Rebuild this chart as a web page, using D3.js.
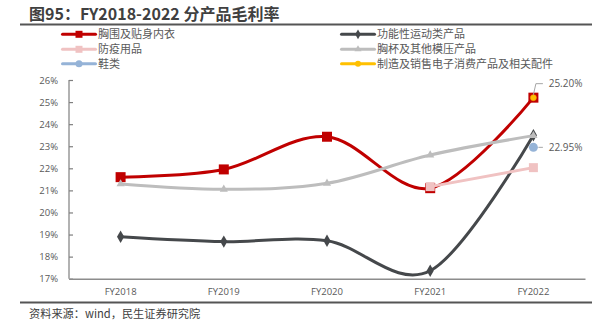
<!DOCTYPE html>
<html>
<head>
<meta charset="utf-8">
<script src="https://cdn.jsdelivr.net/npm/d3@7/dist/d3.min.js"></script>
<style>
  html, body { margin: 0; padding: 0; background: #fff; }
  svg { display: block; }
</style>
</head>
<body>
<svg id="chart" width="615" height="326"></svg>
<script>
// Gross margin by product line, FY2018–FY2022 (%)
const categories = ["FY2018", "FY2019", "FY2020", "FY2021", "FY2022"];
const intimateWear = [21.6, 21.95, 23.43, 21.1, 25.2];      // 胸围及贴身内衣
const sportswear   = [18.9, 18.68, 18.72, 17.36, 23.5];     // 功能性运动类产品
const ppe          = [null, null, null, 21.17, 22.03];      // 防疫用品
const moldedCups   = [21.29, 21.05, 21.32, 22.6, 23.48];    // 胸杯及其他模压产品
const footwear     = [null, null, null, null, 22.95];       // 鞋类
const electronics  = [null, null, null, null, 25.2];        // 制造及销售电子消费产品及相关配件
const yTicks = [17, 18, 19, 20, 21, 22, 23, 24, 25, 26];
const valueLabels = [
  { series: "electronics", index: 4, text: "25.20%" },
  { series: "footwear", index: 4, text: "22.95%" }
];

const series = [
  { key: "intimateWear", name: "胸围及贴身内衣", values: intimateWear, color: "#C00000", marker: "square", size: 10, smooth: true },
  { key: "sportswear", name: "功能性运动类产品", values: sportswear, color: "#45484B", marker: "diamond", size: 9, smooth: true },
  { key: "ppe", name: "防疫用品", values: ppe, color: "#F0C2C2", marker: "square", size: 9, smooth: false },
  { key: "moldedCups", name: "胸杯及其他模压产品", values: moldedCups, color: "#BDBDBD", marker: "triangle", size: 8, smooth: true },
  { key: "footwear", name: "鞋类", values: footwear, color: "#95B3D7", marker: "circle", size: 9, smooth: true },
  { key: "electronics", name: "制造及销售电子消费产品及相关配件", values: electronics, color: "#FFC000", marker: "circle", size: 6, smooth: true }
];

const svg = d3.select("#chart");
const cjk = "'Noto Sans CJK SC', 'Noto Sans', sans-serif";
const latin = "'Open Sans', 'Noto Sans', sans-serif";

const x = d3.scaleBand().domain(categories).range([69, 585]);
const y = d3.scaleLinear().domain([17, 26]).range([278.7, 80]);
const cx = c => x(c) + x.bandwidth() / 2;

// Title and rules
svg.append("text").attr("x", 29).attr("y", 20)
  .attr("font-family", cjk).attr("font-weight", "bold").attr("font-size", 16)
  .attr("fill", "#404040").text("图95：FY2018-2022 分产品毛利率");
svg.append("line").attr("x1", 20).attr("x2", 592).attr("y1", 24.5).attr("y2", 24.5)
  .attr("stroke", "#555").attr("stroke-width", 2);
svg.append("line").attr("x1", 20).attr("x2", 592).attr("y1", 302.5).attr("y2", 302.5)
  .attr("stroke", "#555").attr("stroke-width", 2);
svg.append("text").attr("x", 29).attr("y", 317.5)
  .attr("font-family", cjk).attr("font-size", 11.2).attr("fill", "#404040")
  .text("资料来源：wind，民生证券研究院");

// Marker drawing helper
function symbolFor(marker, size) {
  const types = { square: d3.symbolSquare, diamond: d3.symbolDiamond, triangle: d3.symbolTriangle, circle: d3.symbolCircle };
  let area;
  if (marker === "square") area = size * size;
  else if (marker === "circle") area = Math.PI * (size / 2) * (size / 2);
  else if (marker === "diamond") area = size * size * 0.55;
  else area = size * size * 0.45;
  return d3.symbol().type(types[marker]).size(area)();
}

// Legend
const legendCols = [62.5, 341.5];
const legendRows = [34.3, 49.3, 63.8];
const legend = svg.append("g");
series.forEach((s, i) => {
  const lx = legendCols[i % 2];
  const ly = legendRows[Math.floor(i / 2)];
  const g = legend.append("g");
  g.append("line").attr("x1", lx).attr("x2", lx + 33).attr("y1", ly).attr("y2", ly)
    .attr("stroke", s.color).attr("stroke-width", 3).attr("stroke-linecap", "round");
  g.append("path").attr("d", symbolFor(s.marker, Math.min(s.size, 7)))
    .attr("transform", `translate(${lx + 16.5},${ly})`).attr("fill", s.color);
  g.append("text").attr("x", lx + 35.5).attr("y", ly).attr("dy", "0.36em")
    .attr("font-family", cjk).attr("font-size", 11).attr("fill", "#595959").text(s.name);
});

// Axes
const yAxis = d3.axisRight(y).tickValues(yTicks).tickSize(4).tickFormat(d => d + "%");
const yg = svg.append("g").attr("transform", "translate(69,0)").call(yAxis);
yg.select(".domain").attr("stroke", "#7F7F7F").attr("stroke-width", 1.2).attr("d", `M0,${y(26)}V${y(17)}`);
yg.selectAll(".tick line").attr("stroke", "#7F7F7F").attr("stroke-width", 1.2);
yg.selectAll(".tick text").attr("x", -11).attr("text-anchor", "end")
  .attr("font-family", latin).attr("font-size", 9.5).attr("fill", "#595959");

const xAxis = d3.axisBottom(x).tickSize(0).tickPadding(10);
const xg = svg.append("g").attr("transform", `translate(0,${y(17)})`).call(xAxis);
xg.select(".domain").attr("stroke", "#8C8C8C").attr("stroke-width", 1.6);
xg.selectAll(".tick text").attr("font-family", latin).attr("font-size", 9.5).attr("fill", "#595959");

// Lines and markers
const plot = svg.append("g");
series.forEach(s => {
  const pts = s.values.map((v, i) => ({ c: categories[i], v })).filter(d => d.v !== null);
  if (pts.length > 1) {
    const line = d3.line().x(d => cx(d.c)).y(d => y(d.v))
      .curve(s.smooth ? d3.curveCardinal.tension(0) : d3.curveLinear);
    plot.append("path").datum(pts).attr("d", line)
      .attr("fill", "none").attr("stroke", s.color).attr("stroke-width", 3)
      .attr("stroke-linejoin", "round");
  }
  plot.selectAll(null).data(pts).enter().append("path")
    .attr("d", symbolFor(s.marker, s.size))
    .attr("transform", d => `translate(${cx(d.c)},${y(d.v)})`)
    .attr("fill", s.color)
    .attr("stroke", s.key === "electronics" ? "#F0A000" : "none")
    .attr("stroke-width", 0.6);
});

// Value labels with leader lines
const labels = svg.append("g");
valueLabels.forEach(l => {
  const s = series.find(d => d.key === l.series);
  const v = s.values[l.index];
  const px = cx(categories[l.index]);
  const py = y(v);
  const tx = px + 15.3;
  if (l.series === "electronics") {
    const ly = py - 14;
    labels.append("path").attr("d", `M${px},${py - 3}L${px + 2.5},${ly}H${px + 9.5}`)
      .attr("fill", "none").attr("stroke", "#A6A6A6").attr("stroke-width", 1);
    labels.append("text").attr("x", tx).attr("y", ly).attr("dy", "0.35em")
      .attr("font-family", latin).attr("font-size", 10).attr("fill", "#595959").text(l.text);
  } else {
    labels.append("path").attr("d", `M${px + 5},${py}H${px + 9.5}`)
      .attr("fill", "none").attr("stroke", "#A6A6A6").attr("stroke-width", 1);
    labels.append("text").attr("x", tx).attr("y", py).attr("dy", "0.35em")
      .attr("font-family", latin).attr("font-size", 10).attr("fill", "#595959").text(l.text);
  }
});
</script>
</body>
</html>
